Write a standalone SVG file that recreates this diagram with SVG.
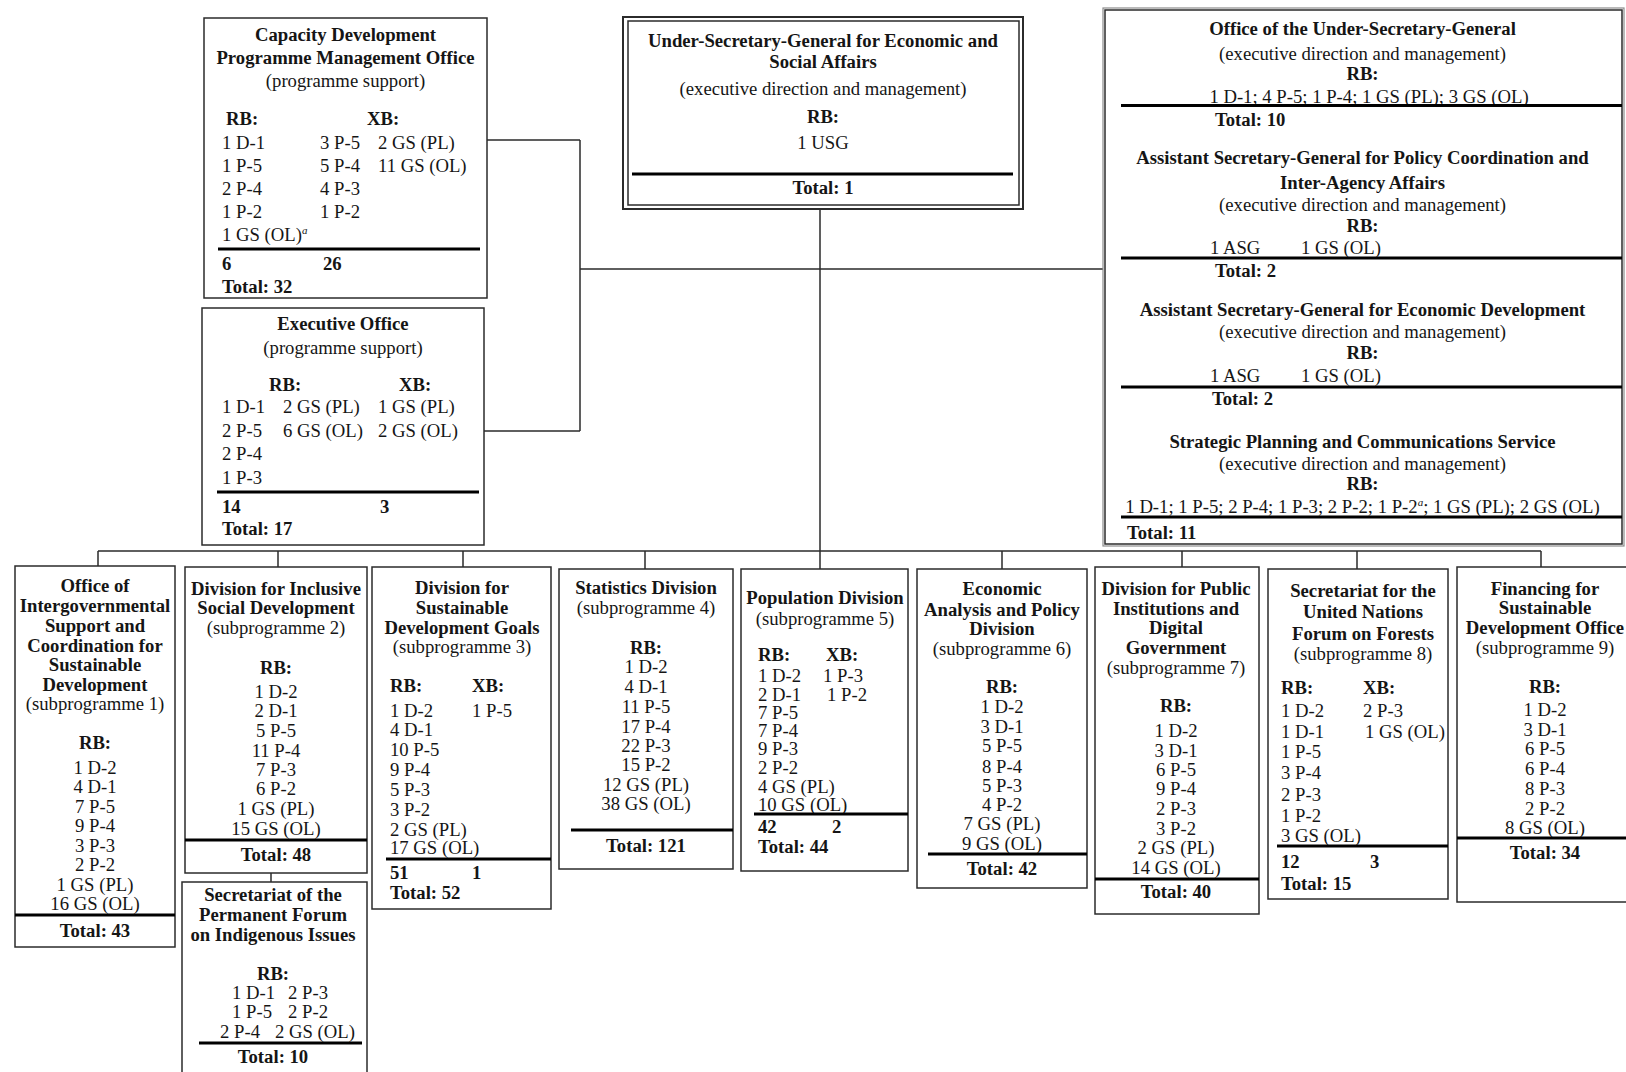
<svg xmlns="http://www.w3.org/2000/svg" width="1626" height="1072" viewBox="0 0 1626 1072">
<style>
  text { font-family: "Liberation Serif", "Times New Roman", serif; font-size: 18.7px; fill: #151515; }
  .b { font-weight: bold; }
  .c { text-anchor: middle; }
  .box { fill: #fff; stroke: #2b2b2b; stroke-width: 1.5; }
  .sep { stroke: #000; stroke-width: 3; }
  .conn { stroke: #2b2b2b; stroke-width: 1.5; fill: none; }
  .sup { font-size: 11px; font-style: italic; }
</style>
<rect width="1626" height="1072" fill="#fff"/>

<!-- connectors -->
<g id="connectors">
  <path class="conn" d="M487 140H580M484 431H580M580 140V431M580 269H1104"/>
  <path class="conn" d="M820 209V551M98 551H1541"/>
  <path class="conn" d="M98 551V566M278 551V567M463 551V567M645 551V569M820 551V569M1002 551V569M1182 551V567M1357 551V569M1541 551V567"/>
  <path class="conn" d="M271 873V882"/>
</g>

<!-- Capacity Development Programme Management Office -->
<g id="cdpmo">
  <rect class="box" x="204" y="18" width="283" height="280"/>
  <text class="b c" x="345.5" y="41">Capacity Development</text>
  <text class="b c" x="345.5" y="64">Programme Management Office</text>
  <text class="c" x="345.5" y="87">(programme support)</text>
  <text class="b" x="226" y="125">RB:</text>
  <text class="b" x="367" y="125">XB:</text>
  <text x="222" y="148.5">1 D-1</text><text x="320" y="148.5">3 P-5</text><text x="378" y="148.5">2 GS (PL)</text>
  <text x="222" y="171.5">1 P-5</text><text x="320" y="171.5">5 P-4</text><text x="378" y="171.5">11 GS (OL)</text>
  <text x="222" y="195">2 P-4</text><text x="320" y="195">4 P-3</text>
  <text x="222" y="218">1 P-2</text><text x="320" y="218">1 P-2</text>
  <text x="222" y="241">1 GS (OL)<tspan class="sup" dy="-7">a</tspan></text>
  <line class="sep" x1="218" y1="249" x2="480" y2="249"/>
  <text class="b" x="222" y="270">6</text><text class="b" x="323" y="270">26</text>
  <text class="b" x="222" y="293">Total: 32</text>
</g>

<!-- Executive Office -->
<g id="executive-office">
  <rect class="box" x="202" y="308" width="282" height="237"/>
  <text class="b c" x="343" y="330">Executive Office</text>
  <text class="c" x="343" y="354">(programme support)</text>
  <text class="b" x="269" y="391">RB:</text>
  <text class="b" x="399" y="391">XB:</text>
  <text x="222" y="413">1 D-1</text><text x="283" y="413">2 GS (PL)</text><text x="378" y="413">1 GS (PL)</text>
  <text x="222" y="436.5">2 P-5</text><text x="283" y="436.5">6 GS (OL)</text><text x="378" y="436.5">2 GS (OL)</text>
  <text x="222" y="460">2 P-4</text>
  <text x="222" y="484">1 P-3</text>
  <line class="sep" x1="217" y1="492" x2="479" y2="492"/>
  <text class="b" x="222" y="513">14</text><text class="b" x="380" y="513">3</text>
  <text class="b" x="222" y="535">Total: 17</text>
</g>

<!-- Under-Secretary-General -->
<g id="usg">
  <rect x="623" y="17" width="400" height="192" fill="#fff" stroke="#2b2b2b" stroke-width="2"/>
  <rect x="628" y="21" width="391" height="184" fill="none" stroke="#2b2b2b" stroke-width="1.5"/>
  <text class="b c" x="823" y="47">Under-Secretary-General for Economic and</text>
  <text class="b c" x="823" y="68">Social Affairs</text>
  <text class="c" x="823" y="95">(executive direction and management)</text>
  <text class="b c" x="823" y="123">RB:</text>
  <text class="c" x="823" y="149">1 USG</text>
  <line class="sep" x1="632" y1="174" x2="1013" y2="174"/>
  <text class="b c" x="823" y="194">Total: 1</text>
</g>

<!-- Executive direction and management offices -->
<g id="edm-offices">
  <rect x="1103" y="8" width="521" height="538" fill="#fff" stroke="#8c8c8c" stroke-width="1.2"/>
  <rect x="1105" y="10" width="517" height="534" fill="none" stroke="#2b2b2b" stroke-width="1.5"/>
  <g id="office-usg">
    <text class="b c" x="1362.5" y="35">Office of the Under-Secretary-General</text>
    <text class="c" x="1362.5" y="59.5">(executive direction and management)</text>
    <text class="b c" x="1362.5" y="80">RB:</text>
    <text class="c" x="1369" y="103">1 D-1; 4 P-5; 1 P-4; 1 GS (PL); 3 GS (OL)</text>
    <line class="sep" x1="1121" y1="105.5" x2="1622" y2="105.5"/>
    <text class="b" x="1215" y="126">Total: 10</text>
  </g>
  <g id="asg-policy">
    <text class="b c" x="1362.5" y="164">Assistant Secretary-General for Policy Coordination and</text>
    <text class="b c" x="1362.5" y="188.5">Inter-Agency Affairs</text>
    <text class="c" x="1362.5" y="211">(executive direction and management)</text>
    <text class="b c" x="1362.5" y="231.5">RB:</text>
    <text x="1210" y="254">1 ASG</text><text x="1301" y="254">1 GS (OL)</text>
    <line class="sep" x1="1121" y1="258" x2="1622" y2="258"/>
    <text class="b" x="1215" y="277">Total: 2</text>
  </g>
  <g id="asg-economic">
    <text class="b c" x="1362.5" y="316">Assistant Secretary-General for Economic Development</text>
    <text class="c" x="1362.5" y="338">(executive direction and management)</text>
    <text class="b c" x="1362.5" y="359">RB:</text>
    <text x="1210" y="382">1 ASG</text><text x="1301" y="382">1 GS (OL)</text>
    <line class="sep" x1="1121" y1="387" x2="1622" y2="387"/>
    <text class="b" x="1212" y="405">Total: 2</text>
  </g>
  <g id="strategic-planning">
    <text class="b c" x="1362.5" y="448">Strategic Planning and Communications Service</text>
    <text class="c" x="1362.5" y="470">(executive direction and management)</text>
    <text class="b c" x="1362.5" y="490">RB:</text>
    <text class="c" x="1362.5" y="513">1 D-1; 1 P-5; 2 P-4; 1 P-3; 2 P-2; 1 P-2<tspan class="sup" dy="-7">a</tspan><tspan dy="7">; 1 GS (PL); 2 GS (OL)</tspan></text>
    <line class="sep" x1="1121" y1="517" x2="1622" y2="517"/>
    <text class="b" x="1127" y="539">Total: 11</text>
  </g>
</g>

<!-- subprogramme 1 -->
<g id="oiscsd">
  <rect class="box" x="15" y="566" width="160" height="381"/>
  <text class="b c" x="95" y="592">Office of</text>
  <text class="b c" x="95" y="611.5">Intergovernmental</text>
  <text class="b c" x="95" y="632">Support and</text>
  <text class="b c" x="95" y="651.5">Coordination for</text>
  <text class="b c" x="95" y="671">Sustainable</text>
  <text class="b c" x="95" y="690.5">Development</text>
  <text class="c" x="95" y="710">(subprogramme 1)</text>
  <text class="b c" x="95" y="748.5">RB:</text>
  <text class="c" x="95" y="773.5">1 D-2</text>
  <text class="c" x="95" y="793">4 D-1</text>
  <text class="c" x="95" y="812.5">7 P-5</text>
  <text class="c" x="95" y="832">9 P-4</text>
  <text class="c" x="95" y="851.5">3 P-3</text>
  <text class="c" x="95" y="871">2 P-2</text>
  <text class="c" x="95" y="890.5">1 GS (PL)</text>
  <text class="c" x="95" y="909.5">16 GS (OL)</text>
  <line class="sep" x1="15" y1="915" x2="175" y2="915"/>
  <text class="b c" x="95" y="937">Total: 43</text>
</g>

<!-- subprogramme 2 -->
<g id="disd">
  <rect class="box" x="185" y="567" width="182" height="306"/>
  <text class="b c" x="276" y="595">Division for Inclusive</text>
  <text class="b c" x="276" y="614">Social Development</text>
  <text class="c" x="276" y="634">(subprogramme 2)</text>
  <text class="b c" x="276" y="674">RB:</text>
  <text class="c" x="276" y="698">1 D-2</text>
  <text class="c" x="276" y="717">2 D-1</text>
  <text class="c" x="276" y="737">5 P-5</text>
  <text class="c" x="276" y="757">11 P-4</text>
  <text class="c" x="276" y="776">7 P-3</text>
  <text class="c" x="276" y="795">6 P-2</text>
  <text class="c" x="276" y="815">1 GS (PL)</text>
  <text class="c" x="276" y="835">15 GS (OL)</text>
  <line class="sep" x1="185" y1="840" x2="367" y2="840"/>
  <text class="b c" x="276" y="861">Total: 48</text>
</g>

<!-- Permanent Forum secretariat -->
<g id="spfii">
  <rect class="box" x="182" y="882" width="185" height="210"/>
  <text class="b c" x="273" y="901">Secretariat of the</text>
  <text class="b c" x="273" y="921">Permanent Forum</text>
  <text class="b c" x="273" y="941">on Indigenous Issues</text>
  <text class="b c" x="273" y="980">RB:</text>
  <text x="232" y="999">1 D-1</text><text x="288" y="999">2 P-3</text>
  <text x="232" y="1018">1 P-5</text><text x="288" y="1018">2 P-2</text>
  <text x="220" y="1038">2 P-4</text><text x="275" y="1038">2 GS (OL)</text>
  <line class="sep" x1="199" y1="1043" x2="362" y2="1043"/>
  <text class="b c" x="273" y="1063">Total: 10</text>
</g>

<!-- subprogramme 3 -->
<g id="dsdg">
  <rect class="box" x="372" y="567" width="179" height="342"/>
  <text class="b c" x="462" y="594">Division for</text>
  <text class="b c" x="462" y="614">Sustainable</text>
  <text class="b c" x="462" y="634">Development Goals</text>
  <text class="c" x="462" y="653">(subprogramme 3)</text>
  <text class="b" x="390" y="692">RB:</text><text class="b" x="472" y="692">XB:</text>
  <text x="390" y="717">1 D-2</text><text x="472" y="717">1 P-5</text>
  <text x="390" y="736">4 D-1</text>
  <text x="390" y="756">10 P-5</text>
  <text x="390" y="776">9 P-4</text>
  <text x="390" y="796">5 P-3</text>
  <text x="390" y="816">3 P-2</text>
  <text x="390" y="836">2 GS (PL)</text>
  <text x="390" y="854">17 GS (OL)</text>
  <line class="sep" x1="386" y1="859" x2="551" y2="859"/>
  <text class="b" x="390" y="879">51</text><text class="b" x="472" y="879">1</text>
  <text class="b" x="390" y="899">Total: 52</text>
</g>

<!-- subprogramme 4 -->
<g id="statistics">
  <rect class="box" x="559" y="569" width="174" height="300"/>
  <text class="b c" x="646" y="594">Statistics Division</text>
  <text class="c" x="646" y="614">(subprogramme 4)</text>
  <text class="b c" x="646" y="654">RB:</text>
  <text class="c" x="646" y="673">1 D-2</text>
  <text class="c" x="646" y="693">4 D-1</text>
  <text class="c" x="646" y="713">11 P-5</text>
  <text class="c" x="646" y="733">17 P-4</text>
  <text class="c" x="646" y="752">22 P-3</text>
  <text class="c" x="646" y="771">15 P-2</text>
  <text class="c" x="646" y="791">12 GS (PL)</text>
  <text class="c" x="646" y="810">38 GS (OL)</text>
  <line class="sep" x1="571" y1="830" x2="733" y2="830"/>
  <text class="b c" x="646" y="852">Total: 121</text>
</g>

<!-- subprogramme 5 -->
<g id="population">
  <rect class="box" x="741" y="569" width="167" height="302"/>
  <text class="b c" x="825" y="604">Population Division</text>
  <text class="c" x="825" y="625">(subprogramme 5)</text>
  <text class="b" x="758" y="661">RB:</text><text class="b" x="826" y="661">XB:</text>
  <text x="758" y="682">1 D-2</text><text x="823" y="682">1 P-3</text>
  <text x="758" y="701">2 D-1</text><text x="827" y="701">1 P-2</text>
  <text x="758" y="719">7 P-5</text>
  <text x="758" y="737">7 P-4</text>
  <text x="758" y="755">9 P-3</text>
  <text x="758" y="774">2 P-2</text>
  <text x="758" y="793">4 GS (PL)</text>
  <text x="758" y="811">10 GS (OL)</text>
  <line class="sep" x1="754" y1="814" x2="908" y2="814"/>
  <text class="b" x="758" y="833">42</text><text class="b" x="832" y="833">2</text>
  <text class="b" x="758" y="853">Total: 44</text>
</g>

<!-- subprogramme 6 -->
<g id="eapd">
  <rect class="box" x="917" y="569" width="170" height="319"/>
  <text class="b c" x="1002" y="595">Economic</text>
  <text class="b c" x="1002" y="616">Analysis and Policy</text>
  <text class="b c" x="1002" y="635">Division</text>
  <text class="c" x="1002" y="655">(subprogramme 6)</text>
  <text class="b c" x="1002" y="693">RB:</text>
  <text class="c" x="1002" y="713">1 D-2</text>
  <text class="c" x="1002" y="733">3 D-1</text>
  <text class="c" x="1002" y="752">5 P-5</text>
  <text class="c" x="1002" y="773">8 P-4</text>
  <text class="c" x="1002" y="792">5 P-3</text>
  <text class="c" x="1002" y="811">4 P-2</text>
  <text class="c" x="1002" y="830">7 GS (PL)</text>
  <text class="c" x="1002" y="850">9 GS (OL)</text>
  <line class="sep" x1="928" y1="854" x2="1087" y2="854"/>
  <text class="b c" x="1002" y="875">Total: 42</text>
</g>

<!-- subprogramme 7 -->
<g id="dpidg">
  <rect class="box" x="1095" y="567" width="164" height="347"/>
  <text class="b c" x="1176" y="595">Division for Public</text>
  <text class="b c" x="1176" y="615">Institutions and</text>
  <text class="b c" x="1176" y="634">Digital</text>
  <text class="b c" x="1176" y="654">Government</text>
  <text class="c" x="1176" y="674">(subprogramme 7)</text>
  <text class="b c" x="1176" y="712">RB:</text>
  <text class="c" x="1176" y="737">1 D-2</text>
  <text class="c" x="1176" y="757">3 D-1</text>
  <text class="c" x="1176" y="776">6 P-5</text>
  <text class="c" x="1176" y="795">9 P-4</text>
  <text class="c" x="1176" y="815">2 P-3</text>
  <text class="c" x="1176" y="835">3 P-2</text>
  <text class="c" x="1176" y="854">2 GS (PL)</text>
  <text class="c" x="1176" y="874">14 GS (OL)</text>
  <line class="sep" x1="1095" y1="879" x2="1259" y2="879"/>
  <text class="b c" x="1176" y="898">Total: 40</text>
</g>

<!-- subprogramme 8 -->
<g id="unff">
  <rect class="box" x="1268" y="569" width="180" height="330"/>
  <text class="b c" x="1363" y="597">Secretariat for the</text>
  <text class="b c" x="1363" y="618">United Nations</text>
  <text class="b c" x="1363" y="640">Forum on Forests</text>
  <text class="c" x="1363" y="660">(subprogramme 8)</text>
  <text class="b" x="1281" y="694">RB:</text><text class="b" x="1363" y="694">XB:</text>
  <text x="1281" y="717">1 D-2</text><text x="1363" y="717">2 P-3</text>
  <text x="1281" y="738">1 D-1</text><text x="1365" y="738">1 GS (OL)</text>
  <text x="1281" y="758">1 P-5</text>
  <text x="1281" y="779">3 P-4</text>
  <text x="1281" y="801">2 P-3</text>
  <text x="1281" y="822">1 P-2</text>
  <text x="1281" y="842">3 GS (OL)</text>
  <line class="sep" x1="1277" y1="846" x2="1448" y2="846"/>
  <text class="b" x="1281" y="868">12</text><text class="b" x="1370" y="868">3</text>
  <text class="b" x="1281" y="890">Total: 15</text>
</g>

<!-- subprogramme 9 -->
<g id="ffsdo">
  <rect class="box" x="1457" y="567" width="185" height="335"/>
  <text class="b c" x="1545" y="595">Financing for</text>
  <text class="b c" x="1545" y="614">Sustainable</text>
  <text class="b c" x="1545" y="634">Development Office</text>
  <text class="c" x="1545" y="654">(subprogramme 9)</text>
  <text class="b c" x="1545" y="693">RB:</text>
  <text class="c" x="1545" y="716">1 D-2</text>
  <text class="c" x="1545" y="736">3 D-1</text>
  <text class="c" x="1545" y="755">6 P-5</text>
  <text class="c" x="1545" y="775">6 P-4</text>
  <text class="c" x="1545" y="795">8 P-3</text>
  <text class="c" x="1545" y="815">2 P-2</text>
  <text class="c" x="1545" y="834">8 GS (OL)</text>
  <line class="sep" x1="1457" y1="838" x2="1642" y2="838"/>
  <text class="b c" x="1545" y="859">Total: 34</text>
</g>
</svg>
